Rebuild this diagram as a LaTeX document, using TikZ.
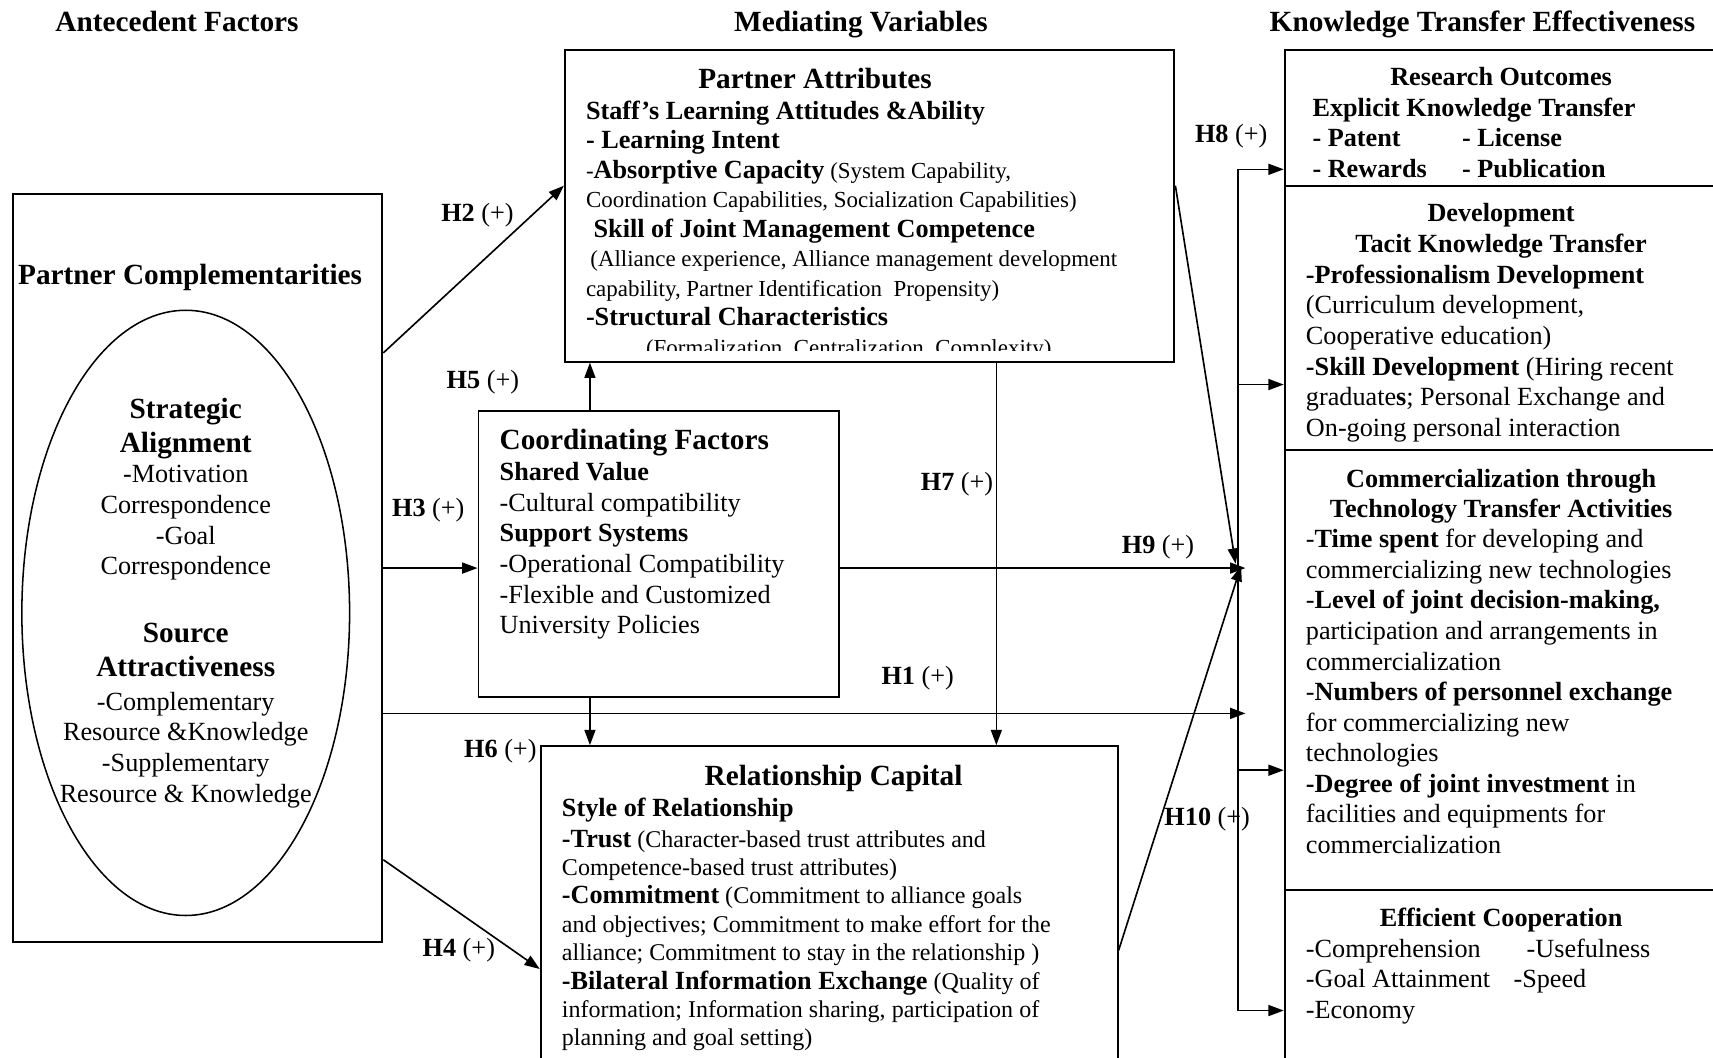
\documentclass[tikz,border=0pt]{standalone}
\usepackage{fontspec}
\setmainfont{Liberation Serif}
\usetikzlibrary{arrows.meta,fit,shapes.geometric}

\newcommand{\hdb}{\fontsize{13.4}{16}\selectfont\bfseries}
\newcommand{\bdb}{\fontsize{12}{13.5}\selectfont\bfseries}

\begin{document}
\begin{tikzpicture}[x=0.5pt,y=-0.5pt,
            box/.style={draw,inner sep=0pt,line width=0.9pt},
            hd/.style={font=\hdb,inner sep=0pt,anchor=base},
            ctr/.style={font=\fontsize{12}{14}\selectfont\bfseries,inner sep=0pt,anchor=base},
            ctrm/.style={font=\fontsize{12}{14}\selectfont\bfseries,inner sep=0pt,align=center,anchor=north,execute at begin node=\strut},
            hlab/.style={font=\fontsize{12}{14}\selectfont,inner sep=0pt},
            txt/.style={font=\fontsize{12}{14}\selectfont,inner sep=0pt,align=left,anchor=north west,execute at begin node=\strut},
            arr/.style={line width=0.75pt,-{Triangle[length=7pt,width=5pt]}}]
            \useasboundingbox (0,0) rectangle (1568,968);

            \node[hd] (hda) at (162,29) {Antecedent Factors};
            \node[hd] (hdm) at (788,29) {Mediating Variables};
            \node[hd] (hdk) at (1357,29) {Knowledge Transfer Effectiveness};

            \node[box,fit={(12,178) (350,862)}] (lbox) {};
            \node[hd] (pc) at (174,260) {Partner Complementarities};
            \node[draw,ellipse,line width=0.7pt,minimum width=150pt,minimum height=277pt] (ell) at (170,561) {};
            \node[txt,align=center,anchor=north] (sa) at (170,364) {{\hdb Strategic}\\[1.5pt]{\hdb Alignment}\\-Motivation\\Correspondence\\-Goal\\Correspondence};
            \node[txt,align=center,anchor=north] (sra) at (170,570) {{\hdb Source}\\[1.5pt]{\hdb Attractiveness}\\[1.5pt]-Complementary\\Resource \&Knowledge\\-Supplementary\\Resource \& Knowledge};

            \node[box,fit={(517,46) (1075,331)}] (pa) {};
            \node[hd] (pat) at (746,81) {Partner Attributes};
            \begin{scope}
                \clip (517,46) rectangle (1075,321);
                \node[txt,font=\fontsize{10.5}{13.5}\selectfont] (patxt) at (536,92) {{\bdb Staff's Learning Attitudes \&Ability}\\{\bdb - Learning Intent}\\-{\bdb Absorptive Capacity} (System Capability,\\Coordination Capabilities, Socialization Capabilities)\\\hspace*{3.5pt}{\bdb Skill of Joint Management Competence}\\\hspace*{2pt}(Alliance experience, Alliance management development\\capability, Partner Identification\ \ Propensity)\\{\bdb -Structural Characteristics}\\\hspace*{27.5pt}(Formalization, Centralization, Complexity)};
            \end{scope}

            \node[box,fit={(438,376) (768,638)}] (cf) {};
            \node[txt] (cftxt) at (457,392) {{\hdb Coordinating Factors}\\[0.5pt]\textbf{Shared Value}\\-Cultural compatibility\\\textbf{Support Systems}\\-Operational Compatibility\\-Flexible and Customized\\University Policies};

            \node[box,fit={(495,683) (1023,1010)}] (rc) {};
            \node[hd] (rct) at (763,719) {Relationship Capital};
            \node[txt,font=\fontsize{11}{13}\selectfont] (rctxt) at (514,730) {{\bdb Style of Relationship}\\[1pt]{\bdb -Trust} (Character-based trust attributes and\\Competence-based trust attributes)\\{\bdb -Commitment} (Commitment to alliance goals\\and objectives; Commitment to make effort for the\\alliance; Commitment to stay in the relationship )\\{\bdb -Bilateral Information Exchange} (Quality of\\information; Information sharing, participation of\\planning and goal setting)};

            \node[box,fit={(1176,46) (1600,170)}] (ro) {};
            \node[box,fit={(1176,170) (1600,412)}] (dv) {};
            \node[box,fit={(1176,412) (1600,815)}] (cm) {};
            \node[box,fit={(1176,815) (1600,1010)}] (ec) {};

            \node[ctr] (rot) at (1374,78) {Research Outcomes};
            \begin{scope}
                \clip (1176,46) rectangle (1600,164);
                \node[txt,font=\fontsize{12}{14}\selectfont\bfseries] (rotxt) at (1201,89) {Explicit Knowledge Transfer\\\makebox[68.5pt][l]{- Patent}- License\\\makebox[68.5pt][l]{- Rewards}- Publication};
            \end{scope}
            \node[ctrm] (dvt) at (1374,186) {Development\\Tacit Knowledge Transfer};
            \node[txt] (dvtxt) at (1195,242) {\textbf{-Professionalism Development}\\(Curriculum development,\\Cooperative education)\\\textbf{-Skill Development} (Hiring recent\\graduate\textbf{s}; Personal Exchange and\\On-going personal interaction};
            \node[ctrm] (cmt) at (1374,429) {Commercialization through\\Technology Transfer Activities};
            \node[txt] (cmtxt) at (1195,484) {-\textbf{Time spent} for developing and\\commercializing new technologies\\-\textbf{Level of joint decision-making,}\\participation and arrangements in\\commercialization\\-\textbf{Numbers of personnel exchange}\\for commercializing new\\technologies\\\textbf{-Degree of joint investment} in\\facilities and equipments for\\commercialization};
            \node[ctr] (ect) at (1374,848) {Efficient Cooperation};
            \node[txt] (ectxt) at (1195,859) {\makebox[101pt][l]{-Comprehension}-Usefulness\\\makebox[95pt][l]{-Goal Attainment}-Speed\\-Economy};

            \node[hlab] (h1) at (840,621) {\textbf{H1} (+)};
            \node[hlab] (h2) at (437,197) {\textbf{H2} (+)};
            \node[hlab] (h3) at (392,467) {\textbf{H3} (+)};
            \node[hlab] (h4) at (420,870) {\textbf{H4} (+)};
            \node[hlab] (h5) at (442,350) {\textbf{H5} (+)};
            \node[hlab] (h6) at (458,688) {\textbf{H6} (+)};
            \node[hlab] (h7) at (876,443) {\textbf{H7} (+)};
            \node[hlab] (h8) at (1127,125) {\textbf{H8} (+)};
            \node[hlab] (h9) at (1060,501) {\textbf{H9} (+)};
            \node[hlab] (h10) at (1105,750) {\textbf{H10} (+)};

            \coordinate (bt) at (1133,155);
            \coordinate (b2) at (1133,352);
            \coordinate (b3) at (1133,705);
            \coordinate (bb) at (1133,925);
            \coordinate (hub) at (1140,520);
            \coordinate (h1e) at (1140,653);
            \coordinate (h8e) at (1131,516);
            \coordinate (h10e) at (1136,518);

            \draw[arr] (lbox.east |- 0,323) -- (pa.west |- 0,170);
            \draw[arr] (540,0 |- cf.north) -- (540,0 |- pa.south);
            \draw[arr] (lbox.east |- 0,520) -- (cf.west |- 0,520);
            \draw[arr] (540,0 |- cf.south) -- (540,0 |- rc.north);
            \draw[arr] (912,0 |- pa.south) -- (912,0 |- rc.north);
            \draw[arr] (lbox.east |- 0,787) -- (rc.west |- 0,887);
            \draw[arr] (lbox.east |- h1e) -- (h1e);
            \draw[arr] (cf.east |- hub) -- (hub);
            \draw[arr] (pa.east |- 0,170) -- (h8e);
            \draw[arr] (rc.east |- 0,870) -- (h10e);
            \draw[line width=0.75pt] (bt) -- (bb);
            \draw[arr] (bt) -- (ro.west |- bt);
            \draw[arr] (b2) -- (dv.west |- b2);
            \draw[arr] (b3) -- (cm.west |- b3);
            \draw[arr] (bb) -- (ec.west |- bb);
\end{tikzpicture}
\end{document}
